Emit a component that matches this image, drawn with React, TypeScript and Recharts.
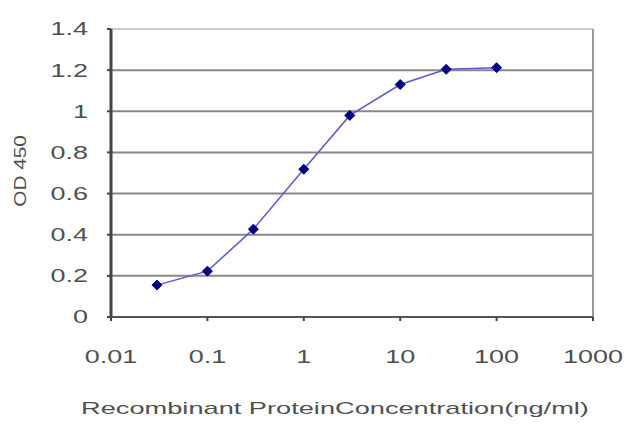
import { LineChart, Line, XAxis, YAxis, CartesianGrid, ReferenceLine, Label } from 'recharts';

const concentrations = [0.03, 0.1, 0.3, 1, 3, 10, 30, 100];
const odValues = [0.155, 0.223, 0.427, 0.718, 0.98, 1.13, 1.204, 1.212];
const xTicks = [0.01, 0.1, 1, 10, 100, 1000];
const yTicks = [0, 0.2, 0.4, 0.6, 0.8, 1, 1.2, 1.4];

const data = concentrations.map((c, i) => ({ conc: c, od: odValues[i] }));

const font = 'Liberation Sans, Arial, sans-serif';
const textFill = '#505050';

// the original's lettering is stretched sideways, so the ticks are drawn wide
const XTick = (props: any) => {
  const { x, y, payload } = props;
  return (
    <text
      transform={`translate(${x},${y}) scale(1.5,1)`}
      textAnchor="middle"
      dy="0.71em"
      fill={textFill}
      fontSize={18}
      fontFamily={font}
    >
      {String(payload.value)}
    </text>
  );
};

const YTick = (props: any) => {
  const { x, y, payload } = props;
  return (
    <text
      transform={`translate(${x},${y}) scale(1.5,1)`}
      textAnchor="end"
      dy="0.355em"
      fill={textFill}
      fontSize={18}
      fontFamily={font}
    >
      {String(payload.value)}
    </text>
  );
};

const XTitle = (props: any) => {
  const { viewBox } = props;
  if (!viewBox) return null;
  const cx = viewBox.x + viewBox.width / 2 - 17;
  const by = viewBox.y + viewBox.height - 13;
  return (
    <text
      transform={`translate(${cx},${by}) scale(1.6,1)`}
      textAnchor="middle"
      fill={textFill}
      fontSize={17}
      fontFamily={font}
    >
      Recombinant ProteinConcentration(ng/ml)
    </text>
  );
};

const YTitle = (props: any) => {
  const { viewBox } = props;
  if (!viewBox) return null;
  const cy = viewBox.y + viewBox.height / 2 - 2;
  return (
    <text
      transform={`translate(26,${cy}) rotate(-90) scale(1.22,1)`}
      textAnchor="middle"
      fill={textFill}
      fontSize={17}
      fontFamily={font}
    >
      OD 450
    </text>
  );
};

const Diamond = (props: any) => {
  const { cx, cy } = props;
  if (cx == null || cy == null) return null;
  const r = 5;
  return (
    <path
      d={`M${cx},${cy - r} L${cx + r},${cy} L${cx},${cy + r} L${cx - r},${cy} Z`}
      fill="#000080"
      stroke="#000080"
    />
  );
};

export default function App() {
  return (
    <div style={{ position: 'absolute', left: 0, top: 0, width: 640, height: 427, background: '#fff' }}>
      <LineChart width={640} height={427} data={data} margin={{ top: 29, right: 47, bottom: 0, left: 0 }}>
        <CartesianGrid vertical={false} stroke="#888" strokeWidth={2} horizontalValues={[0.2, 0.4, 0.6, 0.8, 1, 1.2]} />
        <ReferenceLine y={1.4} stroke="#ccc" strokeWidth={2} />
        <ReferenceLine x={1000} stroke="#999" strokeWidth={2} />
        <XAxis
          dataKey="conc"
          type="number"
          scale="log"
          domain={[0.01, 1000]}
          ticks={xTicks}
          allowDataOverflow
          height={110}
          tick={<XTick />}
          tickSize={4}
          tickMargin={29}
          stroke="#555"
          strokeWidth={2}
          tickLine={{ stroke: '#444', strokeWidth: 2 }}
        >
          <Label content={<XTitle />} />
        </XAxis>
        <YAxis
          type="number"
          domain={[0, 1.4]}
          ticks={yTicks}
          width={111}
          tick={<YTick />}
          tickSize={4}
          tickMargin={19}
          stroke="#444"
          strokeWidth={3}
          tickLine={{ stroke: '#444', strokeWidth: 2 }}
        >
          <Label content={<YTitle />} />
        </YAxis>
        <Line
          type="linear"
          dataKey="od"
          stroke="#5a5ac8"
          strokeWidth={1.5}
          dot={<Diamond />}
          activeDot={false}
          isAnimationActive={false}
        />
      </LineChart>
    </div>
  );
}
